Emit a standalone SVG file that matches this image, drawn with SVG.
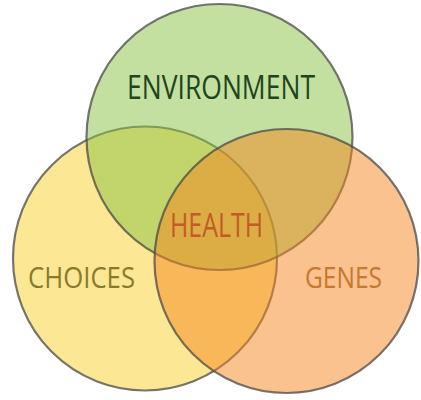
<svg xmlns="http://www.w3.org/2000/svg" width="421" height="400" viewBox="0 0 421 400">
  <style>
    .c { fill-opacity: 0.5; stroke: #4a4a4a; stroke-opacity: 0.75; stroke-width: 2.2; }
    .t { font-family: "Open Sans", "Liberation Sans", sans-serif; text-anchor: middle; }
  </style>
  <rect width="421" height="400" fill="#ffffff"/>
  <g id="choices">
    <circle class="c" cx="145" cy="258.5" r="132" fill="#f9d129"/>
    <text class="t" x="81.5" y="288" font-size="30" fill="#8a7a2e" textLength="107" lengthAdjust="spacingAndGlyphs">CHOICES</text>
  </g>
  <g id="environment">
    <circle class="c" cx="219.5" cy="137" r="133" fill="#87c141"/>
    <text class="t" x="221" y="98.5" font-size="32" fill="#1f4520" textLength="188" lengthAdjust="spacingAndGlyphs">ENVIRONMENT</text>
  </g>
  <g id="genes">
    <circle class="c" cx="286.5" cy="261" r="132" fill="#f3851d"/>
    <text class="t" x="343.5" y="288" font-size="29" fill="#c8782f" textLength="77" lengthAdjust="spacingAndGlyphs">GENES</text>
  </g>
  <g id="health">
    <text class="t" x="216.5" y="236.5" font-size="32" fill="#c55a28" textLength="93" lengthAdjust="spacingAndGlyphs">HEALTH</text>
  </g>
  <g id="connectors"/>
</svg>
